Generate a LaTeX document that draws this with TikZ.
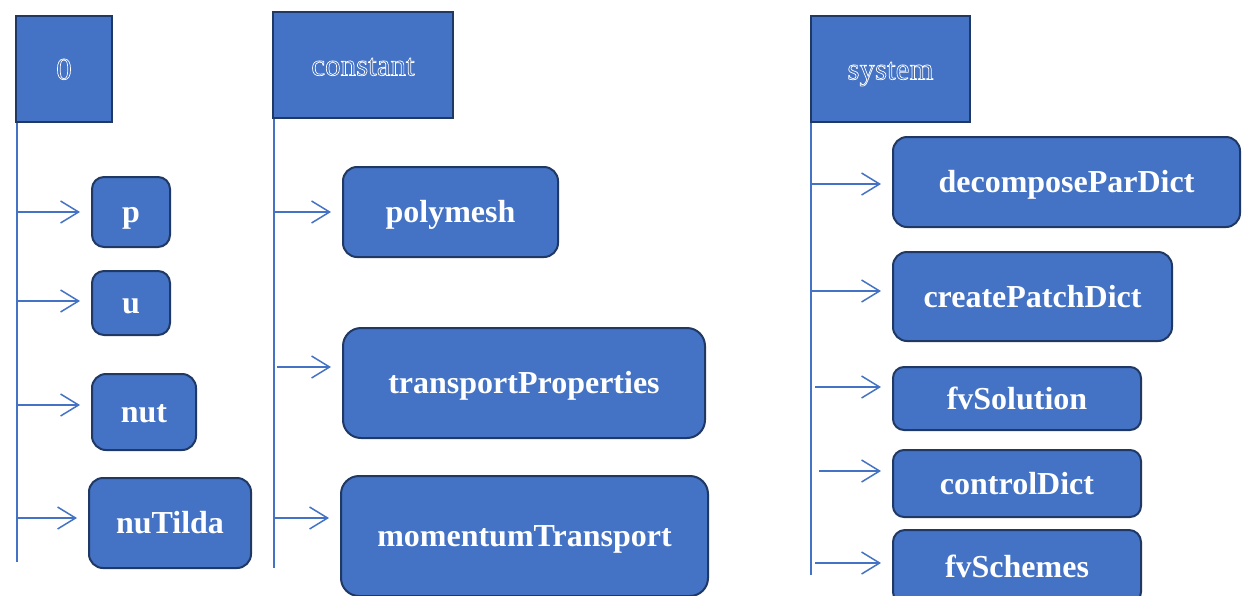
\documentclass[tikz,border=0pt]{standalone}
\usepackage{fontspec}
\setmainfont{Liberation Serif}
\usetikzlibrary{arrows.meta}
\definecolor{BoxBlue}{RGB}{68,114,196}
\definecolor{EdgeNavy}{RGB}{32,56,100}
\newcommand{\hollow}[1]{\special{pdf:literal direct 1 Tr 0.7 w}#1\special{pdf:literal direct 0 Tr}}
\tikzset{folder/.style={rectangle,draw=EdgeNavy,fill=BoxBlue,line width=2.5pt,text=white,inner sep=0pt,font=\fontsize{31}{37}\selectfont,text height=20.9pt,text depth=0pt},
  file/.style={rectangle,rounded corners=14pt,draw=EdgeNavy,fill=BoxBlue,line width=2pt,text=white,inner sep=0pt,font=\bfseries\fontsize{32}{38}\selectfont,text height=21.6pt,text depth=0pt},
  trunk/.style={draw=BoxBlue,line width=1.5pt},
  feed/.style={trunk,-{Straight Barb[length=18pt,width=22pt]},shorten >=11pt}}

\begin{document}
\begin{tikzpicture}[x=1pt,y=-1pt]
\clip (0,0) rectangle (1248,595);
\fill[white] (0,0) rectangle (1248,595);
% folders
\node[folder,minimum width=96pt,minimum height=106pt] (zero) at (64,69) {\hollow{0}};
\node[folder,minimum width=180pt,minimum height=106pt] (constant) at (363,65) {\hollow{constant}};
\node[folder,minimum width=159pt,minimum height=106pt] (system) at (890.5,69) {\hollow{system}};
% files in 0
\node[file,minimum width=78pt,minimum height=70pt,rounded corners=12pt] (p) at (131,212) {p};
\node[file,minimum width=78pt,minimum height=64pt,rounded corners=12pt] (u) at (131,303) {u};
\node[file,minimum width=104pt,minimum height=76pt] (nut) at (144,412) {nut};
\node[file,minimum width=162pt,minimum height=90pt] (nuTilda) at (170,523) {nuTilda};
% files in constant
\node[file,minimum width=215pt,minimum height=90pt] (polymesh) at (450.5,212) {polymesh};
\node[file,minimum width=362pt,minimum height=110pt,rounded corners=18pt] (transport) at (524,383) {transportProperties};
\node[file,minimum width=367pt,minimum height=120pt,rounded corners=18pt] (momentum) at (524.5,536) {momentumTransport};
% files in system
\node[file,minimum width=347pt,minimum height=90pt] (decompose) at (1066.5,182) {decomposeParDict};
\node[file,minimum width=279pt,minimum height=89pt] (patch) at (1032.5,296.5) {createPatchDict};
\node[file,minimum width=248pt,minimum height=63pt,rounded corners=11pt] (solution) at (1017,398.5) {fvSolution};
\node[file,minimum width=248pt,minimum height=67pt,rounded corners=11pt] (control) at (1017,483.5) {controlDict};
\node[file,minimum width=248pt,minimum height=74pt,rounded corners=12pt] (schemes) at (1017,567) {fvSchemes};
% trunks
\coordinate (zeroend) at (17,562);
\coordinate (constend) at (274,568);
\coordinate (sysend) at (811,575);
\draw[trunk] (zero.south west -| zeroend) -- (zeroend);
\draw[trunk] (constant.south west -| constend) -- (constend);
\draw[trunk] (system.south west -| sysend) -- (sysend);
% arrows
\coordinate (sp) at (17,212);
\coordinate (su) at (17,301);
\coordinate (snut) at (17,405);
\coordinate (snuTilda) at (17,518);
\coordinate (spolymesh) at (274,212);
\coordinate (stransport) at (277,367);
\coordinate (smomentum) at (274,518);
\coordinate (sdecompose) at (811,184);
\coordinate (spatch) at (811,291);
\coordinate (ssolution) at (815,387);
\coordinate (scontrol) at (819,471);
\coordinate (sschemes) at (815,563);
\foreach \f in {p,u,nut,nuTilda,polymesh,transport,momentum,decompose,patch,solution,control,schemes}
  \draw[feed] (s\f) -- (s\f -| \f.west);
\end{tikzpicture}
\end{document}
